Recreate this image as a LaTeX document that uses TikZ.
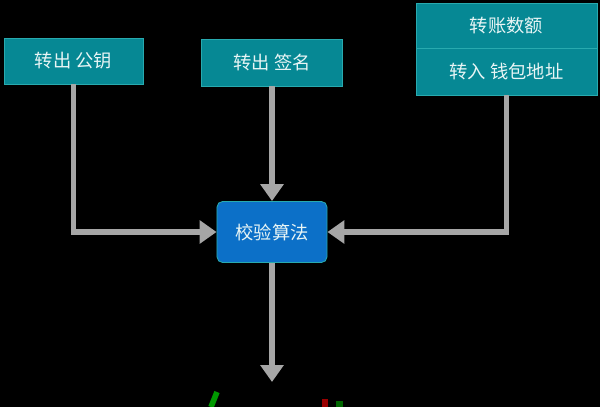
\documentclass[tikz,border=0pt]{standalone}
\usepackage{fontspec}
\setmainfont{Noto Sans CJK SC}
\usepackage{tikz}
\usetikzlibrary{arrows.meta}

\definecolor{tealbox}{RGB}{6,136,148}
\definecolor{tealedge}{RGB}{40,170,175}
\definecolor{bluebox}{RGB}{12,112,200}
\definecolor{labeltext}{RGB}{232,245,245}

\begin{document}
\begin{tikzpicture}[x=0.025cm, y=-0.025cm]
    \tikzstyle{inbox} = [rectangle, draw=tealedge, fill=tealbox, line width=0.6pt, inner sep=0pt, text=labeltext, font=\fontsize{13}{15}\selectfont]
    \tikzstyle{algobox} = [rectangle, rounded corners=4pt, draw=tealedge, fill=bluebox, line width=0.6pt, inner sep=0pt, minimum width=2.75cm, minimum height=1.525cm, text=labeltext, font=\fontsize{13}{15}\selectfont]
    \tikzstyle{flow} = [draw=gray!70, line width=4.2pt, -{Triangle[width=16pt, length=12pt]}]

    % Background
    \fill[black] (0,0) rectangle (600,407);
    \useasboundingbox (0,0) rectangle (600,407);

    % Inputs
    \node[inbox, minimum width=3.475cm, minimum height=1.15cm] (key) at (73.5,61) {转出 公钥};
    \node[inbox, minimum width=3.525cm, minimum height=1.175cm] (sig) at (272,62.5) {转出 签名};
    \node[inbox, minimum width=4.525cm, minimum height=1.125cm] (amount) at (506.5,25.5) {转账数额};
    \node[inbox, minimum width=4.525cm, minimum height=1.175cm] (addr) at (506.5,71.5) {转入 钱包地址};

    % Verifier
    \node[algobox] (algo) at (272,232) {校验算法};

    % Connectors
    \draw[flow] (key.south) |- (algo.west);
    \draw[flow] (sig.south) -- (algo.north);
    \draw[flow] (addr.south) |- (algo.east);
    \coordinate (out) at (272,382);
    \draw[flow] (algo.south) -- (out);

    % Cut-off marks at the bottom edge
    \draw[green!60!black, line width=4pt] (211,407) -- (217,392);
    \fill[red!60!black] (322,399) rectangle (328,407);
    \fill[green!40!black] (336,401) rectangle (343,407);
\end{tikzpicture}
\end{document}
